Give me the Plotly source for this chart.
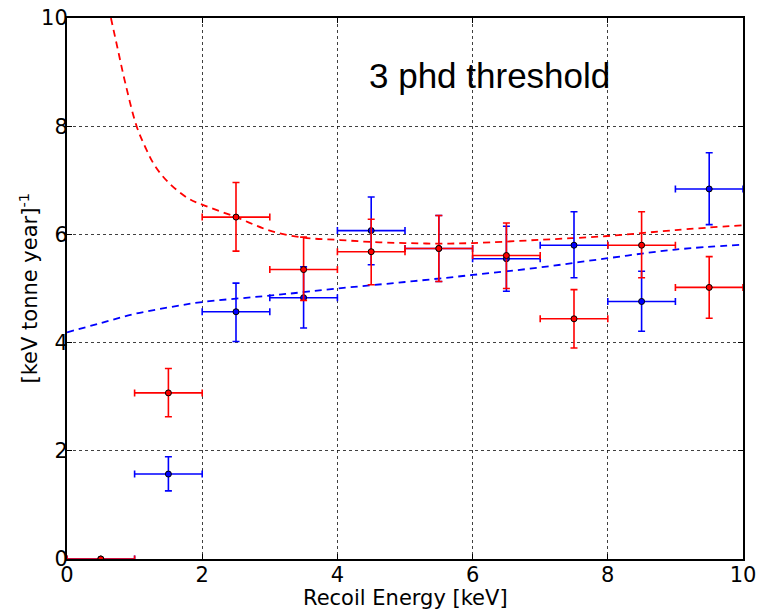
import plotly.graph_objs as go

# Centros dos bins de energia (keV) e meia largura
bin_centres = [0.5, 1.5, 2.5, 3.5, 4.5, 5.5, 6.5, 7.5, 8.5, 9.5]
bin_half = [0.5, 0.5, 0.5, 0.5, 0.5, 0.5, 0.5, 0.5, 0.5, 0.5]

# Serie vermelha
red_rate = [0.0, 3.07, 6.32, 5.35, 5.68, 5.74, 5.61, 4.44, 5.80, 5.02]
red_upper = [0.0, 3.52, 6.96, 5.95, 6.28, 6.35, 6.21, 4.98, 6.42, 5.59]
red_lower = [0.0, 2.63, 5.69, 4.78, 5.07, 5.13, 5.00, 3.90, 5.20, 4.45]

# Serie azul
blue_rate = [0.0, 1.57, 4.57, 4.83, 6.07, 5.74, 5.55, 5.80, 4.76, 6.84]
blue_upper = [0.0, 1.89, 5.10, 5.40, 6.69, 6.35, 6.15, 6.42, 5.32, 7.51]
blue_lower = [0.0, 1.26, 4.02, 4.27, 5.44, 5.13, 4.95, 5.20, 4.21, 6.18]

# Curvas tracejadas
red_curve_x = [0.65, 0.75, 0.86, 1.03, 1.17, 1.3, 1.5, 1.8, 2.0, 2.5, 3.0, 3.5,
               4.0, 4.5, 5.0, 5.5, 6.0, 7.0, 8.0, 9.0, 10.0]
red_curve_y = [10.0, 9.43, 8.81, 8.0, 7.58, 7.27, 6.96, 6.66, 6.55, 6.32, 6.07, 5.94,
               5.90, 5.86, 5.84, 5.83, 5.84, 5.90, 5.97, 6.08, 6.17]
blue_curve_x = [0, 0.5, 1.0, 1.5, 2.0, 2.75, 3.25, 4.0, 5.0, 6.0, 7.0, 8.0, 9.0, 10.0]
blue_curve_y = [4.19, 4.36, 4.53, 4.65, 4.75, 4.84, 4.90, 5.0, 5.12, 5.25, 5.39, 5.56, 5.72, 5.81]

tick_vals = [0, 2, 4, 6, 8, 10]

RED = "rgb(255,0,0)"
BLUE = "rgb(0,0,255)"
FONT = "DejaVu Sans"


def error_trace(rate, upper, lower, color):
    '''Pontos com barras de erro nos dois eixos'''
    plus = [u - r for u, r in zip(upper, rate)]
    minus = [r - l for r, l in zip(rate, lower)]
    return go.Scatter(
        x=bin_centres,
        y=rate,
        mode="markers",
        marker=dict(size=6, color=color, line=dict(color="black", width=1)),
        error_x=dict(type="data", array=bin_half, color=color, thickness=1.6, width=3.5),
        error_y=dict(type="data", symmetric=False, array=plus, arrayminus=minus,
                     color=color, thickness=1.6, width=3.5),
        showlegend=False,
    )


fig = go.Figure()

fig.add_trace(go.Scatter(x=blue_curve_x, y=blue_curve_y, mode="lines",
                         line=dict(color=BLUE, width=1.8, dash="7px,5px", shape="spline"),
                         showlegend=False))
fig.add_trace(go.Scatter(x=red_curve_x, y=red_curve_y, mode="lines",
                         line=dict(color=RED, width=1.8, dash="7px,5px", shape="spline"),
                         showlegend=False))

fig.add_trace(error_trace(blue_rate, blue_upper, blue_lower, BLUE))
fig.add_trace(error_trace(red_rate, red_upper, red_lower, RED))

# Texto do limiar
fig.add_annotation(x=6.25, y=8.94, xref="x", yref="y", text="3 phd threshold",
                   showarrow=False, font=dict(family="Liberation Sans, Arial", size=35, color="black"))

# Titulos dos eixos como anotacoes (posicao controlada)
fig.add_annotation(x=0.5, y=0, xref="paper", yref="paper", yanchor="top", yshift=-25,
                   text="Recoil Energy [keV]", showarrow=False,
                   font=dict(family=FONT, size=21, color="black"))
fig.add_annotation(x=0, y=0.5, xref="paper", yref="paper", xanchor="center", xshift=-39,
                   textangle=-90, text="[keV tonne year]<sup>-1</sup>", showarrow=False,
                   font=dict(family=FONT, size=21, color="black"))

axis_style = dict(
    range=[0, 10],
    tickvals=tick_vals,
    automargin=False,
    ticklabeloverflow="allow",
    layer="above traces",
    showline=True, linecolor="black", linewidth=2, mirror="ticks",
    ticks="inside", ticklen=5, tickwidth=1, tickcolor="black",
    showgrid=True, gridcolor="rgba(0,0,0,0.75)", gridwidth=1, griddash="dot",
    zeroline=False,
    tickfont=dict(family=FONT, size=21, color="black"),
)

fig.update_xaxes(**axis_style, ticklabelstandoff=-4)
fig.update_yaxes(**axis_style, ticklabelstandoff=-7)

# A pagina tem margem de 8px, entao compensa aqui
fig.update_layout(
    width=756,
    height=603,
    margin=dict(l=59, r=21, t=10, b=52),
    plot_bgcolor="white",
    paper_bgcolor="white",
)

fig.write_html("out.html")
